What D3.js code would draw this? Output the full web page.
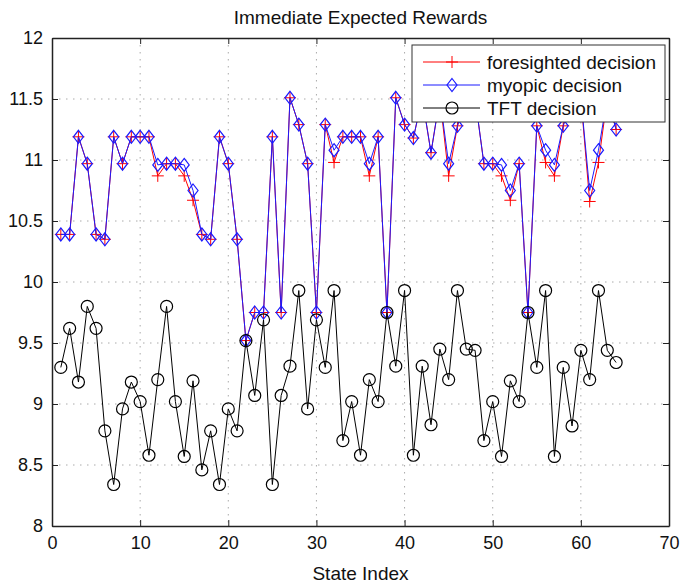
<!DOCTYPE html>
<html>
<head>
<meta charset="utf-8">
<script src="https://cdn.jsdelivr.net/npm/d3@7"></script>
<style>
  body { margin: 0; background: #fff; }
  text { font-family: "Liberation Sans", Arial, Helvetica, sans-serif; }
  .grid line { stroke: #aaa; stroke-dasharray: 1.5,5.5; stroke-width: 1; }
</style>
</head>
<body>
<div id="chart"></div>
<script>
// * Data
var states = [1, 2, 3, 4, 5, 6, 7, 8, 9, 10, 11, 12, 13, 14, 15, 16,
  17, 18, 19, 20, 21, 22, 23, 24, 25, 26, 27, 28, 29, 30, 31, 32,
  33, 34, 35, 36, 37, 38, 39, 40, 41, 42, 43, 44, 45, 46, 47, 48,
  49, 50, 51, 52, 53, 54, 55, 56, 57, 58, 59, 60, 61, 62, 63, 64];

var foresighted = [10.39, 10.39, 11.19, 10.97, 10.39, 10.35, 11.19, 10.97,
  11.19, 11.19, 11.19, 10.87, 10.97, 10.97, 10.87, 10.67,
  10.39, 10.35, 11.19, 10.97, 10.35, 9.52, 9.75, 9.75,
  11.19, 9.75, 11.51, 11.29, 10.97, 9.75, 11.29, 10.98,
  11.19, 11.19, 11.19, 10.87, 11.19, 9.75, 11.51, 11.29,
  11.18, 11.51, 11.06, 11.51, 10.87, 11.28, 11.51, 11.51,
  10.97, 10.97, 10.87, 10.67, 10.97, 9.75, 11.28, 10.98,
  10.87, 11.28, 11.51, 11.51, 10.66, 10.98, 11.51, 11.25];

var myopic = [10.39, 10.39, 11.19, 10.97, 10.39, 10.35, 11.19, 10.97,
  11.19, 11.19, 11.19, 10.96, 10.97, 10.97, 10.96, 10.75,
  10.39, 10.35, 11.19, 10.97, 10.35, 9.52, 9.75, 9.75,
  11.19, 9.75, 11.51, 11.29, 10.97, 9.75, 11.29, 11.08,
  11.19, 11.19, 11.19, 10.97, 11.19, 9.75, 11.51, 11.29,
  11.18, 11.51, 11.06, 11.51, 10.97, 11.28, 11.51, 11.51,
  10.97, 10.97, 10.96, 10.75, 10.97, 9.75, 11.28, 11.08,
  10.96, 11.28, 11.51, 11.51, 10.75, 11.08, 11.51, 11.25];

var tft = [9.30, 9.62, 9.18, 9.80, 9.62, 8.78, 8.34, 8.96,
  9.18, 9.02, 8.58, 9.20, 9.80, 9.02, 8.57, 9.19,
  8.46, 8.78, 8.34, 8.96, 8.78, 9.52, 9.07, 9.69,
  8.34, 9.07, 9.31, 9.93, 8.96, 9.69, 9.30, 9.93,
  8.70, 9.02, 8.58, 9.20, 9.02, 9.75, 9.31, 9.93,
  8.58, 9.31, 8.83, 9.45, 9.20, 9.93, 9.45, 9.44,
  8.70, 9.02, 8.57, 9.19, 9.02, 9.75, 9.30, 9.93,
  8.57, 9.30, 8.82, 9.44, 9.20, 9.93, 9.44, 9.34];

var xTicks = [0, 10, 20, 30, 40, 50, 60, 70];
var yTicks = [8, 8.5, 9, 9.5, 10, 10.5, 11, 11.5, 12];
var seriesNames = ["foresighted decision", "myopic decision", "TFT decision"];

// * Dimensions
var W = 681, H = 586;
var margin = { left: 52, top: 38, right: 12, bottom: 60 };
var width = W - margin.left - margin.right;
var height = H - margin.top - margin.bottom;

var x = d3.scaleLinear().domain([0, 70]).range([0, width]);
var y = d3.scaleLinear().domain([8, 12]).range([height, 0]);

var svg = d3.select("#chart").append("svg")
  .attr("width", W).attr("height", H);

var g = svg.append("g")
  .attr("transform", "translate(" + margin.left + "," + margin.top + ")");

// * Dotted grid
var grid = g.append("g").attr("class", "grid");
grid.selectAll(".gx").data(xTicks.slice(1, -1)).enter().append("line")
  .attr("x1", function (d) { return x(d); }).attr("x2", function (d) { return x(d); })
  .attr("y1", 0).attr("y2", height);
grid.selectAll(".gy").data(yTicks.slice(1, -1)).enter().append("line")
  .attr("y1", function (d) { return y(d); }).attr("y2", function (d) { return y(d); })
  .attr("x1", 0).attr("x2", width);

// * Axes, ticks inward on all four sides
function styleAxis(sel) {
  sel.selectAll("path").attr("stroke", "#222").attr("stroke-width", 1.5);
  sel.selectAll("line").attr("stroke", "#222").attr("stroke-width", 1);
  sel.selectAll("text").attr("font-size", 18).attr("fill", "#111")
    .attr("font-family", "'Liberation Sans', Arial, sans-serif");
}
g.append("g").attr("transform", "translate(0," + height + ")")
  .call(d3.axisBottom(x).tickValues(xTicks).tickSizeInner(-6).tickSizeOuter(0).tickPadding(10))
  .call(styleAxis);
g.append("g")
  .call(d3.axisTop(x).tickValues(xTicks).tickSizeInner(-6).tickSizeOuter(0).tickFormat(""))
  .call(styleAxis);
g.append("g")
  .call(d3.axisLeft(y).tickValues(yTicks).tickSizeInner(-6).tickSizeOuter(0).tickPadding(9)
    .tickFormat(d3.format("~g")))
  .call(styleAxis);
g.append("g").attr("transform", "translate(" + width + ",0)")
  .call(d3.axisRight(y).tickValues(yTicks).tickSizeInner(-6).tickSizeOuter(0).tickFormat(""))
  .call(styleAxis);

// * Titles
svg.append("text").attr("x", margin.left + width / 2).attr("y", 24)
  .attr("text-anchor", "middle").attr("font-size", 19).attr("fill", "#111")
  .text("Immediate Expected Rewards");
svg.append("text").attr("x", margin.left + width / 2).attr("y", 580)
  .attr("text-anchor", "middle").attr("font-size", 19).attr("fill", "#111")
  .text("State Index");

// * Markers
function drawMarker(sel, type, color) {
  if (type === "plus") {
    sel.append("path").attr("d", "M-6,0H6M0,-6V6")
      .attr("stroke", color).attr("stroke-width", 1).attr("fill", "none");
  } else if (type === "diamond") {
    sel.append("path").attr("d", "M0,-6.5L5,0L0,6.5L-5,0Z")
      .attr("stroke", color).attr("stroke-width", 1.2).attr("fill", "none");
  } else {
    sel.append("circle").attr("r", 6)
      .attr("stroke", color).attr("stroke-width", 1.2).attr("fill", "none");
  }
}

var series = [
  { name: seriesNames[0], values: foresighted, color: "#ff0000", marker: "plus" },
  { name: seriesNames[1], values: myopic, color: "#1a1aff", marker: "diamond" },
  { name: seriesNames[2], values: tft, color: "#000000", marker: "circle" }
];

var line = d3.line()
  .x(function (d) { return x(d[0]); })
  .y(function (d) { return y(d[1]); });

series.forEach(function (s) {
  var pts = states.map(function (st, i) { return [st, s.values[i]]; });
  g.append("path").datum(pts)
    .attr("d", line).attr("fill", "none")
    .attr("stroke", s.color).attr("stroke-width", 1);
  var m = g.append("g").selectAll("g").data(pts).enter().append("g")
    .attr("transform", function (d) { return "translate(" + x(d[0]) + "," + y(d[1]) + ")"; });
  m.each(function () { drawMarker(d3.select(this), s.marker, s.color); });
});

// * Legend
var lg = g.append("g").attr("transform", "translate(" + (412 - margin.left) + "," + (45 - margin.top) + ")");
lg.append("rect").attr("width", 253).attr("height", 77)
  .attr("fill", "#fff").attr("stroke", "#333").attr("stroke-width", 1);
series.forEach(function (s, i) {
  var row = lg.append("g").attr("transform", "translate(0," + (17 + i * 23) + ")");
  row.append("line").attr("x1", 11).attr("x2", 68)
    .attr("stroke", s.color).attr("stroke-width", 1);
  drawMarker(row.append("g").attr("transform", "translate(40,0)"), s.marker, s.color);
  row.append("text").attr("x", 75).attr("y", 6.5).attr("font-size", 19).attr("fill", "#111")
    .text(s.name);
});
</script>
</body>
</html>
